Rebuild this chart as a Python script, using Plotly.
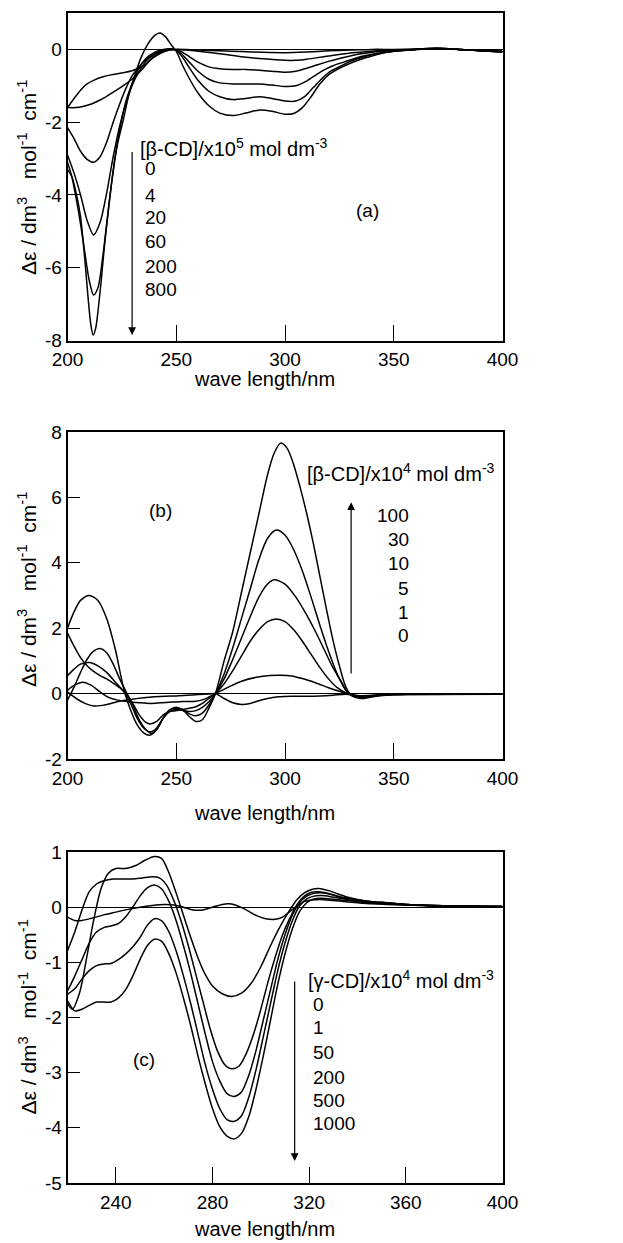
import plotly.graph_objects as go

# ---------------- Panel (a): [beta-CD]/x10^5 mol dm^-3 ----------------
a_labels = ["0", "4", "20", "60", "200", "800"]
a_x_0 = [200, 203, 206, 209, 212, 216, 220, 225, 230, 235, 239, 243, 247, 250, 260, 270, 280, 290, 300, 310, 320, 330, 340, 350, 360, 370, 380, 390, 400]
a_y_0 = [-1.6, -1.35, -1.12, -0.95, -0.85, -0.76, -0.7, -0.65, -0.58, -0.45, -0.25, -0.1, -0.02, 0.0, -0.02, -0.04, -0.06, -0.08, -0.09, -0.07, -0.04, -0.02, 0.0, 0.0, 0.01, 0.02, 0.0, -0.03, -0.05]
a_x_4 = [200, 204, 207, 211, 215, 219, 222.5, 226, 230, 234.8, 239.4, 245.5, 250, 255, 260, 270, 280, 290, 300, 305, 310, 320, 330, 340, 350, 360, 370, 380, 390, 400]
a_y_4 = [-1.6, -1.6, -1.57, -1.5, -1.39, -1.25, -1.12, -0.98, -0.8, -0.52, -0.2, -0.02, 0.0, -0.02, -0.05, -0.12, -0.2, -0.26, -0.3, -0.3, -0.27, -0.18, -0.1, -0.05, -0.02, 0.0, 0.02, 0.0, -0.03, -0.05]
a_x_20 = [200, 203, 206, 209, 212, 215, 218, 221, 224, 227, 230, 234, 238, 242, 246, 249, 252, 256, 260, 265, 270, 276, 282, 288, 294, 300, 305, 310, 315, 320, 325, 330, 335, 340, 350, 360, 370, 380, 390, 400]
a_y_20 = [-2.15, -2.45, -2.8, -3.02, -3.1, -2.95, -2.55, -2.0, -1.5, -1.05, -0.7, -0.4, -0.2, -0.07, -0.01, 0.0, -0.05, -0.2, -0.35, -0.48, -0.53, -0.55, -0.55, -0.57, -0.6, -0.63, -0.6, -0.52, -0.42, -0.33, -0.25, -0.18, -0.12, -0.08, -0.03, 0.0, 0.02, 0.0, -0.04, -0.06]
a_x_60 = [200, 203, 206, 209, 212, 215, 218, 221, 224, 227, 230, 233, 236, 240, 244, 249, 252, 256, 260, 265, 270, 276, 282, 288, 294, 300, 305, 309, 313, 317, 322, 327, 332, 337, 342, 350, 360, 370, 380, 390, 400]
a_y_60 = [-2.9, -3.4, -4.0, -4.7, -5.1, -4.75, -3.95, -2.95, -2.1, -1.45, -0.95, -0.6, -0.33, -0.12, -0.02, 0.0, -0.1, -0.35, -0.6, -0.82, -0.92, -0.95, -0.95, -0.95, -0.98, -1.02, -1.0, -0.9, -0.75, -0.6, -0.45, -0.35, -0.25, -0.17, -0.11, -0.05, 0.0, 0.03, 0.0, -0.04, -0.07]
a_x_200 = [200, 202, 204, 206, 208, 210, 212, 214, 216, 218, 220, 222, 224.5, 227, 230, 233, 236, 240, 244, 249, 252, 256, 260, 265, 270, 276, 282, 288, 294, 300, 305, 309, 313, 317, 321, 326, 330, 335, 340, 345, 350, 360, 370, 380, 390, 400]
a_y_200 = [-3.1, -3.5, -4.1, -4.8, -5.6, -6.35, -6.75, -6.55, -5.8, -4.8, -3.8, -2.9, -2.05, -1.4, -0.9, -0.5, -0.25, -0.08, 0.0, 0.0, -0.15, -0.5, -0.85, -1.15, -1.3, -1.38, -1.35, -1.3, -1.35, -1.42, -1.42, -1.3, -1.05, -0.8, -0.6, -0.45, -0.33, -0.23, -0.15, -0.09, -0.05, 0.0, 0.03, 0.0, -0.04, -0.07]
a_x_800 = [200, 202, 204, 206, 208, 209.5, 210.7, 211.8, 213, 214.2, 215.5, 217, 219, 221, 223, 225.6, 228, 231, 234, 237, 240, 242.5, 245, 248, 250, 253, 256, 260, 265, 270, 276, 282, 288, 294, 300, 304, 308, 312, 316, 320, 325, 330, 335, 340, 345, 350, 360, 370, 380, 390, 400]
a_y_800 = [-3.3, -3.5, -3.95, -4.6, -5.8, -6.85, -7.55, -7.85, -7.65, -7.1, -6.35, -5.4, -4.3, -3.35, -2.6, -1.95, -1.3, -0.7, -0.2, 0.15, 0.38, 0.45, 0.35, 0.1, -0.05, -0.45, -0.8, -1.2, -1.55, -1.75, -1.82, -1.75, -1.67, -1.7, -1.78, -1.76, -1.6, -1.3, -0.95, -0.7, -0.52, -0.38, -0.27, -0.18, -0.1, -0.05, 0.0, 0.03, 0.0, -0.04, -0.07]

# ---------------- Panel (b): [beta-CD]/x10^4 mol dm^-3 ----------------
b_labels = ["100", "30", "10", "5", "1", "0"]
b_x_100 = [200, 203, 206, 210, 214, 218, 222, 226, 229, 232, 235, 238, 241, 244, 247, 250, 253, 256, 259, 262, 265, 268, 272, 276, 280, 284, 288, 292, 295, 298, 301, 304, 307, 310, 313, 316, 319, 322, 325, 328, 331, 335, 338, 342, 348, 360, 400]
b_y_100 = [2.0, 2.5, 2.85, 3.0, 2.85, 2.3, 1.35, 0.1, -0.5, -0.95, -1.2, -1.27, -1.1, -0.75, -0.5, -0.42, -0.5, -0.7, -0.85, -0.8, -0.45, 0.0, 1.0, 1.9, 3.1, 4.3, 5.5, 6.7, 7.35, 7.66, 7.5, 7.0, 6.3, 5.5, 4.6, 3.6, 2.6, 1.65, 0.85, 0.2, -0.08, -0.15, -0.13, -0.08, -0.04, -0.03, -0.02]
b_x_30 = [200, 203, 206, 209, 212, 215, 218, 221, 224, 227, 230, 233, 236, 238.5, 241, 244, 247, 250, 253, 256, 259, 262, 265, 268, 272, 276, 280, 284, 288, 292, 296, 300, 304, 308, 312, 316, 320, 324, 328, 331, 335, 340, 348, 400]
b_y_30 = [-0.2, 0.2, 0.65, 1.05, 1.3, 1.38, 1.25, 0.9, 0.45, 0.05, -0.35, -0.8, -1.1, -1.22, -1.1, -0.75, -0.5, -0.45, -0.5, -0.62, -0.68, -0.6, -0.35, 0.0, 0.6, 1.4, 2.3, 3.2, 4.1, 4.75, 5.0, 4.85, 4.4, 3.75, 2.95, 2.1, 1.3, 0.6, 0.1, -0.07, -0.12, -0.08, -0.03, -0.02]
b_x_10 = [200, 203, 206, 210, 214, 218, 222, 226, 229, 232, 235, 238, 241, 244, 247, 250, 253, 256, 259, 262, 265, 268, 272, 276, 280, 284, 288, 292, 295, 300, 305, 310, 314, 318, 322, 326, 329, 335, 340, 348, 400]
b_y_10 = [0.55, 0.75, 0.9, 0.95, 0.85, 0.65, 0.35, 0.05, -0.3, -0.75, -1.05, -1.17, -1.05, -0.75, -0.55, -0.48, -0.52, -0.55, -0.52, -0.42, -0.25, 0.0, 0.45, 1.05, 1.7, 2.35, 2.95, 3.35, 3.48, 3.35, 2.95, 2.4, 1.9, 1.35, 0.8, 0.35, 0.02, -0.12, -0.08, -0.03, -0.02]
b_x_5 = [200, 203, 206, 209, 212, 215, 218, 221, 224, 227, 230, 233, 236, 238, 241, 244, 247, 250, 253, 256, 259, 262, 265, 268, 272, 276, 280, 284, 288, 292, 296, 300, 304, 308, 312, 316, 320, 324, 328, 331, 335, 340, 348, 400]
b_y_5 = [1.85, 1.45, 1.1, 0.85, 0.68, 0.55, 0.45, 0.32, 0.18, 0.0, -0.3, -0.65, -0.88, -0.93, -0.85, -0.65, -0.55, -0.52, -0.48, -0.45, -0.4, -0.3, -0.15, 0.0, 0.3, 0.7, 1.15, 1.6, 1.95, 2.2, 2.28, 2.2, 1.95, 1.6, 1.2, 0.8, 0.45, 0.18, 0.02, -0.06, -0.1, -0.06, -0.03, -0.02]
b_x_1 = [200, 203, 207, 211, 215, 219, 223, 228, 233, 238, 243, 248, 253, 258, 263, 268, 274, 280, 287, 293, 298, 303, 308, 314, 320, 325, 329, 334, 340, 350, 400]
b_y_1 = [0.1, 0.25, 0.35, 0.25, 0.05, -0.12, -0.2, -0.25, -0.28, -0.3, -0.28, -0.26, -0.24, -0.24, -0.17, 0.0, 0.2, 0.38, 0.5, 0.55, 0.56, 0.54, 0.46, 0.33, 0.18, 0.07, 0.0, -0.07, -0.05, -0.02, -0.02]
b_x_0 = [200, 204, 208, 212, 216, 220, 225, 230, 235, 240, 245, 250, 255, 260, 265, 268, 272, 276, 280, 284, 288, 292, 297, 303, 310, 316, 322, 328, 333, 338, 345, 355, 400]
b_y_0 = [0.05, -0.15, -0.3, -0.38, -0.36, -0.3, -0.22, -0.17, -0.13, -0.1, -0.08, -0.07, -0.05, -0.03, -0.01, 0.0, -0.15, -0.28, -0.33, -0.3, -0.22, -0.15, -0.1, -0.08, -0.08, -0.07, -0.05, -0.02, -0.06, -0.08, -0.04, -0.02, -0.02]

# ---------------- Panel (c): [gamma-CD]/x10^4 mol dm^-3 ----------------
c_labels = ["0", "1", "50", "200", "500", "1000"]
c_x_0 = [220, 223, 226, 230, 235, 240, 245, 250, 255, 260, 264, 268, 272, 276, 280, 284, 287, 290, 294, 298, 302, 306, 309, 312, 315, 318, 321, 325, 330, 335, 340, 346, 352, 360, 370, 380, 400]
c_y_0 = [-0.18, -0.24, -0.24, -0.2, -0.14, -0.09, -0.04, 0.0, 0.03, 0.05, 0.04, 0.0, -0.05, -0.05, 0.0, 0.05, 0.06, 0.03, -0.05, -0.15, -0.21, -0.22, -0.18, -0.08, 0.02, 0.1, 0.13, 0.14, 0.12, 0.1, 0.08, 0.06, 0.05, 0.04, 0.02, 0.01, 0.0]
c_x_1 = [220, 222, 225, 228, 231, 234, 237, 240, 244, 248, 252, 256, 259, 262, 265, 268, 271, 274, 277, 280, 284, 288, 292, 296, 300, 304, 308, 312, 315, 318, 321, 324, 328, 332, 336, 340, 346, 352, 360, 370, 380, 390, 400]
c_y_1 = [-1.75, -1.85, -1.55, -0.9, -0.2, 0.35, 0.62, 0.7, 0.7, 0.75, 0.85, 0.92, 0.88, 0.62, 0.25, -0.15, -0.55, -0.92, -1.22, -1.43, -1.57, -1.62, -1.56, -1.38, -1.08, -0.7, -0.35, -0.05, 0.14, 0.26, 0.32, 0.34, 0.3, 0.24, 0.18, 0.14, 0.1, 0.08, 0.05, 0.03, 0.02, 0.01, 0.01]
c_x_50 = [220, 223, 226, 229, 232, 235, 239, 243, 247, 251, 255, 258, 261, 264, 267, 270, 273, 276, 279, 282, 285, 288, 291, 294, 297, 300, 303, 306, 309, 312, 315, 318, 321, 324, 328, 332, 336, 340, 346, 352, 360, 370, 380, 400]
c_y_50 = [-0.79, -0.45, -0.05, 0.28, 0.42, 0.48, 0.51, 0.51, 0.51, 0.53, 0.55, 0.53, 0.4, 0.12, -0.25, -0.7, -1.2, -1.7, -2.2, -2.6, -2.85, -2.93, -2.88, -2.65, -2.3, -1.85, -1.35, -0.9, -0.5, -0.2, 0.05, 0.2, 0.27, 0.28, 0.25, 0.2, 0.16, 0.13, 0.1, 0.08, 0.05, 0.03, 0.02, 0.01]
c_x_200 = [220, 223, 226, 229, 232, 235, 238, 241, 244, 247, 250, 253, 256, 259, 262, 265, 268, 271, 274, 277, 280, 283, 286, 289, 292, 295, 298, 301, 304, 307, 310, 313, 316, 319, 322, 325, 329, 333, 338, 344, 352, 360, 370, 380, 400]
c_y_200 = [-1.52, -1.25, -0.95, -0.65, -0.45, -0.37, -0.34, -0.3, -0.18, 0.0, 0.2, 0.35, 0.4, 0.33, 0.1, -0.25, -0.7, -1.2, -1.75, -2.3, -2.8, -3.15, -3.38, -3.43, -3.35, -3.05, -2.6, -2.05, -1.5, -0.95, -0.5, -0.15, 0.08, 0.2, 0.25, 0.26, 0.23, 0.18, 0.14, 0.1, 0.07, 0.05, 0.03, 0.02, 0.01]
c_x_500 = [220, 223, 226, 229, 232, 235, 238, 241, 244, 247, 250, 253, 256, 259, 262, 265, 268, 271, 274, 277, 280, 283, 286, 289, 292, 295, 298, 301, 304, 307, 310, 313, 316, 319, 322, 325, 329, 333, 338, 344, 352, 360, 370, 380, 400]
c_y_500 = [-1.58, -1.48, -1.3, -1.15, -1.06, -1.03, -1.02, -0.95, -0.85, -0.72, -0.55, -0.33, -0.21, -0.25, -0.45, -0.8, -1.25, -1.75, -2.3, -2.85, -3.3, -3.65, -3.85, -3.88, -3.78, -3.45, -2.95, -2.35, -1.75, -1.15, -0.65, -0.25, 0.02, 0.15, 0.2, 0.21, 0.19, 0.16, 0.12, 0.09, 0.07, 0.05, 0.03, 0.02, 0.01]
c_x_1000 = [220, 223, 226, 229, 232, 235, 238, 241, 244, 247, 250, 253, 256, 259, 262, 265, 268, 271, 274, 277, 280, 283, 286, 289, 292, 295, 298, 301, 304, 307, 310, 313, 316, 319, 322, 325, 329, 333, 338, 344, 352, 360, 370, 380, 400]
c_y_1000 = [-1.7, -1.88, -1.85, -1.78, -1.72, -1.72, -1.72, -1.65, -1.5, -1.25, -0.95, -0.7, -0.58, -0.62, -0.85, -1.2, -1.65, -2.15, -2.7, -3.2, -3.65, -3.98, -4.15, -4.2, -4.1, -3.8, -3.3, -2.7, -2.05, -1.4, -0.85, -0.4, -0.08, 0.08, 0.15, 0.16, 0.15, 0.13, 0.11, 0.08, 0.06, 0.04, 0.03, 0.02, 0.01]

# tick labels (hyphen minus as in the original)
a_yticks = [-8, -6, -4, -2, 0]
b_yticks = [-2, 0, 2, 4, 6, 8]
c_yticks = [-5, -4, -3, -2, -1, 0, 1]
ab_xticks = [200, 250, 300, 350, 400]
c_xticks = [240, 280, 320, 360, 400]

a_series = [(a_x_0, a_y_0), (a_x_4, a_y_4), (a_x_20, a_y_20), (a_x_60, a_y_60), (a_x_200, a_y_200), (a_x_800, a_y_800)]
b_series = [(b_x_100, b_y_100), (b_x_30, b_y_30), (b_x_10, b_y_10), (b_x_5, b_y_5), (b_x_1, b_y_1), (b_x_0, b_y_0)]
c_series = [(c_x_0, c_y_0), (c_x_1, c_y_1), (c_x_50, c_y_50), (c_x_200, c_y_200), (c_x_500, c_y_500), (c_x_1000, c_y_1000)]

FONT = "Liberation Sans, Arial, Helvetica, sans-serif"
W, H = 623, 1243

fig = go.Figure()
for (xs, ys), lab in zip(a_series, a_labels):
    fig.add_trace(go.Scatter(x=xs, y=ys, mode="lines", name=lab, xaxis="x", yaxis="y",
                             line=dict(color="black", width=1.5, shape="spline", smoothing=0.8)))
for (xs, ys), lab in zip(b_series, b_labels):
    fig.add_trace(go.Scatter(x=xs, y=ys, mode="lines", name=lab, xaxis="x2", yaxis="y2",
                             line=dict(color="black", width=1.5, shape="spline", smoothing=0.8)))
for (xs, ys), lab in zip(c_series, c_labels):
    fig.add_trace(go.Scatter(x=xs, y=ys, mode="lines", name=lab, xaxis="x3", yaxis="y3",
                             line=dict(color="black", width=1.5, shape="spline", smoothing=0.8)))

xdom = [67.5 / W, 502.5 / W]
def ydom(top, bottom):
    return [1 - bottom / H, 1 - top / H]

def lbl(v):
    return str(v)

common_ax = dict(showline=True, linecolor="black", linewidth=1.5, mirror=True, showgrid=False,
                 automargin=False, ticks="inside", tickcolor="black", tickwidth=1.2,
                 tickfont=dict(family=FONT, size=19, color="black"))

xa = dict(common_ax, domain=xdom, ticklen=16, ticklabelstandoff=1, zeroline=False)
ya = dict(common_ax, ticklen=13, zeroline=True, zerolinecolor="black", zerolinewidth=1.2)

fig.update_layout(
    template="none",
    width=W, height=H, margin=dict(l=0, r=0, t=0, b=0, autoexpand=False),
    paper_bgcolor="white", plot_bgcolor="white", showlegend=False,
    xaxis=dict(xa, range=[200, 400], tickvals=ab_xticks, ticktext=[lbl(v) for v in ab_xticks], anchor="y"),
    yaxis=dict(ya, range=[-8, 1], tickvals=a_yticks, ticktext=[lbl(v) for v in a_yticks],
               domain=ydom(13, 340.5), anchor="x"),
    xaxis2=dict(xa, range=[200, 400], tickvals=ab_xticks, ticktext=[lbl(v) for v in ab_xticks], anchor="y2"),
    yaxis2=dict(ya, range=[-2, 8], tickvals=b_yticks, ticktext=[lbl(v) for v in b_yticks],
                domain=ydom(432, 759), anchor="x2"),
    xaxis3=dict(xa, range=[220, 400], tickvals=c_xticks, ticktext=[lbl(v) for v in c_xticks], anchor="y3"),
    yaxis3=dict(ya, range=[-5, 1], tickvals=c_yticks, ticktext=[lbl(v) for v in c_yticks],
                domain=ydom(852, 1183), anchor="x3"),
)

ann = []
tfont = dict(family=FONT, size=20, color="black")
NB = "\u00a0"
ytitle = "Δε / dm<sup>3</sup>" + NB * 3 + "mol<sup>-1</sup>" + NB * 2 + "cm<sup>-1</sup>"
yfont = dict(family=FONT, size=21, color="black")
for yc in [178, 590, 1017.5]:
    ann.append(dict(xref="paper", yref="paper", x=27 / W, y=1 - yc / H, text=ytitle, textangle=-90,
                    showarrow=False, font=yfont, xanchor="center", yanchor="middle"))
for yc in [379, 813, 1229]:
    ann.append(dict(xref="paper", yref="paper", x=264 / W, y=1 - yc / H, text="wave length/nm",
                    showarrow=False, font=tfont, xanchor="center", yanchor="middle"))

lfont = dict(family=FONT, size=19, color="black")
hfont = dict(family=FONT, size=20, color="black")
# Panel (a) legend text
ann.append(dict(xref="x", yref="y", x=232.4, y=-2.7, text="[β-CD]/x10<sup>5</sup> mol dm<sup>-3</sup>",
                showarrow=False, font=hfont, xanchor="left", yanchor="middle"))
for lab, yv in zip(a_labels, [-3.28, -4.02, -4.63, -5.27, -5.96, -6.6]):
    ann.append(dict(xref="x", yref="y", x=234.7, y=yv, text=lab, showarrow=False, font=lfont,
                    xanchor="left", yanchor="middle"))
ann.append(dict(xref="x", yref="y", x=338, y=-4.44, text="(a)", showarrow=False, font=lfont,
                xanchor="center", yanchor="middle"))
ann.append(dict(xref="x", yref="y", axref="x", ayref="y", x=229.7, y=-7.85, ax=229.7, ay=-2.78,
                text="", showarrow=True, arrowhead=2, arrowsize=1.3, arrowwidth=1.2, arrowcolor="black"))

# Panel (b)
ann.append(dict(xref="x2", yref="y2", x=309.4, y=6.77, text="[β-CD]/x10<sup>4</sup> mol dm<sup>-3</sup>",
                showarrow=False, font=hfont, xanchor="left", yanchor="middle"))
for lab, yv in zip(b_labels, [5.45, 4.72, 3.99, 3.22, 2.49, 1.79]):
    ann.append(dict(xref="x2", yref="y2", x=357.7, y=yv, text=lab, showarrow=False, font=lfont,
                    xanchor="right", yanchor="middle"))
ann.append(dict(xref="x2", yref="y2", x=242.8, y=5.6, text="(b)", showarrow=False, font=lfont,
                xanchor="center", yanchor="middle"))
ann.append(dict(xref="x2", yref="y2", axref="x2", ayref="y2", x=330.4, y=5.85, ax=330.4, ay=0.57,
                text="", showarrow=True, arrowhead=2, arrowsize=1.3, arrowwidth=1.2, arrowcolor="black"))

# Panel (c)
ann.append(dict(xref="x3", yref="y3", x=318.6, y=-1.32, text="[γ-CD]/x10<sup>4</sup> mol dm<sup>-3</sup>",
                showarrow=False, font=hfont, xanchor="left", yanchor="middle"))
for lab, yv in zip(c_labels, [-1.77, -2.19, -2.64, -3.08, -3.5, -3.92]):
    ann.append(dict(xref="x3", yref="y3", x=320.7, y=yv, text=lab, showarrow=False, font=lfont,
                    xanchor="left", yanchor="middle"))
ann.append(dict(xref="x3", yref="y3", x=251.6, y=-2.77, text="(c)", showarrow=False, font=lfont,
                xanchor="center", yanchor="middle"))
ann.append(dict(xref="x3", yref="y3", axref="x3", ayref="y3", x=314, y=-4.6, ax=314, ay=-1.32,
                text="", showarrow=True, arrowhead=2, arrowsize=1.3, arrowwidth=1.2, arrowcolor="black"))

fig.update_layout(annotations=ann)
fig.write_html("out.html", config={"displayModeBar": False},
               post_script="document.body.style.margin='0';")
